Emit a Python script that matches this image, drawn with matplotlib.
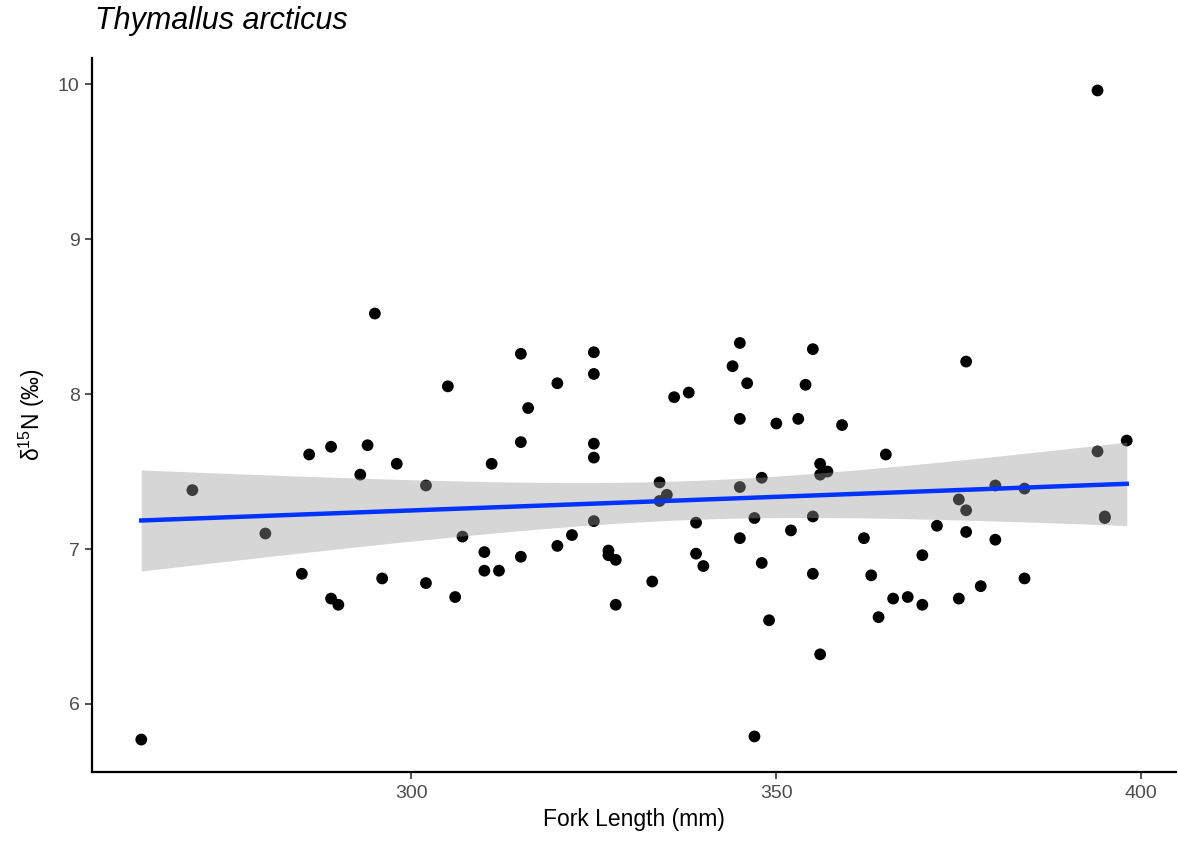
import numpy as np
import matplotlib
matplotlib.use("Agg")
import matplotlib.pyplot as plt

plt.rcParams['font.family'] = ['Liberation Sans', 'DejaVu Sans']
plt.rcParams['mathtext.fontset'] = 'custom'
plt.rcParams['mathtext.rm'] = 'Liberation Sans'
plt.rcParams['mathtext.it'] = 'Liberation Sans:italic'

fork_length = [263, 270, 280, 285, 286, 289, 289, 290, 293, 294, 295, 296, 298,
               302, 302, 305, 306, 307, 310, 310, 311, 312, 315, 315, 315, 316,
               320, 320, 322, 325, 325, 325, 325, 325, 327, 327, 328, 328, 333,
               334, 334, 335, 336, 338, 339, 339, 340, 344, 345, 345, 345, 345,
               346, 347, 347, 348, 348, 349, 350, 352, 353, 354, 355, 355, 355,
               356, 356, 356, 357, 359, 362, 363, 364, 365, 366, 368, 370, 370,
               372, 375, 375, 376, 376, 376, 378, 380, 380, 384, 384, 394, 394,
               395, 395, 398]
d15n = [5.77, 7.38, 7.10, 6.84, 7.61, 7.66, 6.68, 6.64, 7.48, 7.67, 8.52, 6.81, 7.55,
        7.41, 6.78, 8.05, 6.69, 7.08, 6.98, 6.86, 7.55, 6.86, 8.26, 7.69, 6.95, 7.91,
        8.07, 7.02, 7.09, 8.27, 8.13, 7.68, 7.59, 7.18, 6.99, 6.96, 6.93, 6.64, 6.79,
        7.43, 7.31, 7.35, 7.98, 8.01, 7.17, 6.97, 6.89, 8.18, 8.33, 7.84, 7.40, 7.07,
        8.07, 7.20, 5.79, 7.46, 6.91, 6.54, 7.81, 7.12, 7.84, 8.06, 8.29, 7.21, 6.84,
        7.55, 7.48, 6.32, 7.50, 7.80, 7.07, 6.83, 6.56, 7.61, 6.68, 6.69, 6.96, 6.64,
        7.15, 7.32, 6.68, 8.21, 7.25, 7.11, 6.76, 7.41, 7.06, 7.39, 6.81, 9.96, 7.63,
        7.21, 7.20, 7.70]

x_ticks = [300, 350, 400]
y_ticks = [6, 7, 8, 9, 10]

x = np.array(fork_length, dtype=float)
y = np.array(d15n, dtype=float)

# linear model with 95% confidence band
n = len(x)
X = np.column_stack([np.ones(n), x])
beta, *_ = np.linalg.lstsq(X, y, rcond=None)
resid = y - X @ beta
s2 = resid @ resid / (n - 2)
xx = np.linspace(x.min(), x.max(), 80)
Xg = np.column_stack([np.ones_like(xx), xx])
XtX_inv = np.linalg.inv(X.T @ X)
se = np.sqrt(s2 * np.einsum('ij,jk,ik->i', Xg, XtX_inv, Xg))
tcrit = 1.986
fit = Xg @ beta

fig = plt.figure(figsize=(11.78, 8.41), dpi=100)
ax = fig.add_axes([92/1178, 1 - 772/841, (1176-92)/1178, (772-58)/841])

ax.scatter(x, y, s=72, color='black', edgecolors='none', zorder=2)
ax.fill_between(xx, fit - tcrit*se, fit + tcrit*se, color='#999999', alpha=0.4,
                linewidth=0, zorder=3)
ax.plot(xx, fit, color='#0033FF', linewidth=3.2, zorder=4)

xr = x.max() - x.min()
yr = y.max() - y.min()
ax.set_xlim(x.min() - 0.05*xr, x.max() + 0.05*xr)
ax.set_ylim(y.min() - 0.05*yr, y.max() + 0.05*yr)
ax.set_xticks(x_ticks)
ax.set_yticks(y_ticks)
ax.tick_params(axis='both', colors='#333333', labelcolor='#4D4D4D', labelsize=14,
               length=5, width=1.2, pad=4)
for side in ['top', 'right']:
    ax.spines[side].set_visible(False)
for side in ['left', 'bottom']:
    ax.spines[side].set_linewidth(1.6)
    ax.spines[side].set_color('black')

ax.set_xlabel('Fork Length (mm)', fontsize=16.5, color='black', labelpad=5)
ax.set_ylabel('δ$^{15}$N (‰)', fontsize=16.5, color='black', labelpad=8)
fig.text(95/1178, 1 - 21/841, 'Thymallus arcticus', fontsize=22, style='italic',
         ha='left', va='center', color='black')

fig.savefig('out.png', dpi=100)
